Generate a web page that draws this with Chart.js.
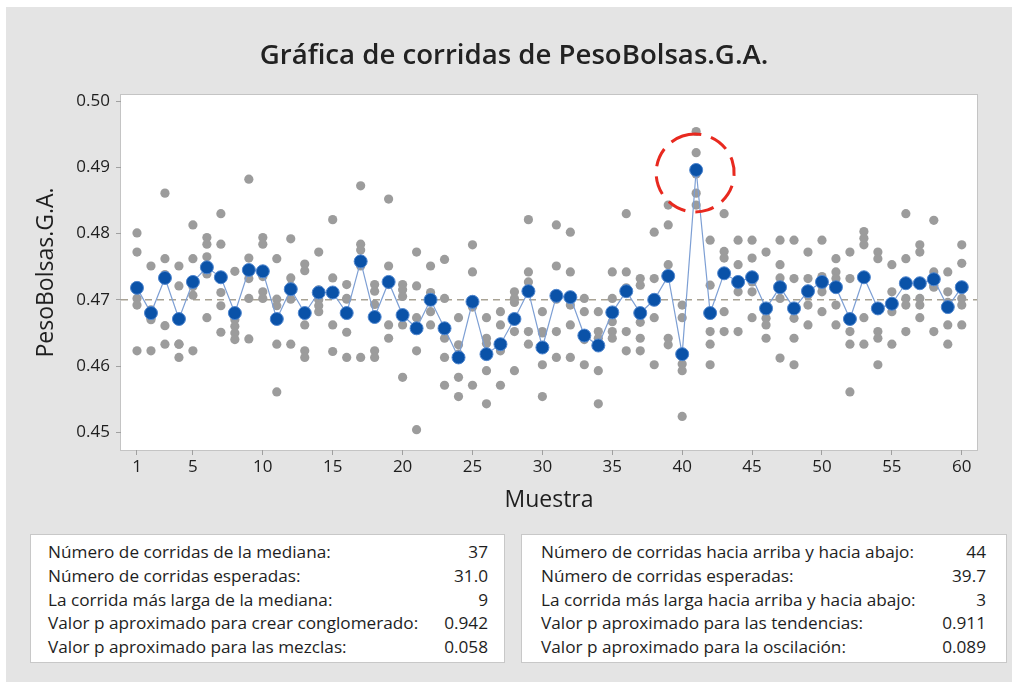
<!DOCTYPE html>
<html>
<head>
<meta charset="utf-8">
<script src="https://cdn.jsdelivr.net/npm/chart.js@4/dist/chart.umd.min.js"></script>
<style>
  body { margin: 0; background: #fff; }
  #panel { position: absolute; left: 6px; top: 7px; width: 1006px; height: 675px; background: #e4e4e4; }
  canvas { position: absolute; left: 0; top: 0; }
  .caja { position: absolute; top: 534px; height: 129px; background: #fff; border: 1px solid #c8c8c8; box-sizing: border-box;
          font-family: "Open Sans", sans-serif; font-size: 17.2px; color: #1e1e1e; padding-top: 5px; }
  .caja div { display: flex; justify-content: space-between; height: 23.75px; line-height: 23.75px; white-space: nowrap; }
</style>
</head>
<body>
<div id="panel"></div>
<canvas id="grafico" width="1012" height="682"></canvas>
<div class="caja" id="cajaMediana" style="left:30px; width:475px; padding-left:17px; padding-right:16px;"></div>
<div class="caja" id="cajaTendencia" style="left:521px; width:486px; padding-left:19px; padding-right:20px;"></div>
<script>
const muestras = [1, 2, 3, 4, 5, 6, 7, 8, 9, 10, 11, 12, 13, 14, 15, 16, 17, 18, 19, 20,
  21, 22, 23, 24, 25, 26, 27, 28, 29, 30, 31, 32, 33, 34, 35, 36, 37, 38, 39, 40,
  41, 42, 43, 44, 45, 46, 47, 48, 49, 50, 51, 52, 53, 54, 55, 56, 57, 58, 59, 60];

// medias de cada subgrupo (puntos azules)
const medias = [0.4718, 0.4680, 0.4733, 0.4671, 0.4727, 0.4749, 0.4734, 0.4680, 0.4745, 0.4743,
  0.4671, 0.4716, 0.4680, 0.4711, 0.4711, 0.4680, 0.4758, 0.4674, 0.4727, 0.4677,
  0.4657, 0.4700, 0.4657, 0.4613, 0.4697, 0.4618, 0.4633, 0.4671, 0.4713, 0.4628,
  0.4706, 0.4704, 0.4646, 0.4631, 0.4681, 0.4713, 0.4680, 0.4700, 0.4736, 0.4618,
  0.4896, 0.4680, 0.4740, 0.4727, 0.4734, 0.4687, 0.4719, 0.4687, 0.4713, 0.4727,
  0.4719, 0.4671, 0.4734, 0.4687, 0.4694, 0.4725, 0.4725, 0.4731, 0.4689, 0.4719];

// observaciones individuales (puntos grises)
const observaciones = [
  [0.4801, 0.4772, 0.4702, 0.4692, 0.4623], [0.4751, 0.4685, 0.4672, 0.4670, 0.4623],
  [0.4861, 0.4762, 0.4738, 0.4661, 0.4633], [0.4751, 0.4721, 0.4633, 0.4633, 0.4613],
  [0.4813, 0.4762, 0.4720, 0.4707, 0.4623], [0.4794, 0.4784, 0.4765, 0.4739, 0.4673],
  [0.4830, 0.4784, 0.4711, 0.4691, 0.4651], [0.4743, 0.4670, 0.4660, 0.4650, 0.4640],
  [0.4882, 0.4763, 0.4732, 0.4702, 0.4641], [0.4794, 0.4784, 0.4735, 0.4712, 0.4702],
  [0.4762, 0.4701, 0.4691, 0.4633, 0.4561], [0.4792, 0.4733, 0.4721, 0.4701, 0.4633],
  [0.4754, 0.4744, 0.4662, 0.4623, 0.4613], [0.4772, 0.4715, 0.4700, 0.4691, 0.4682],
  [0.4821, 0.4733, 0.4712, 0.4662, 0.4622], [0.4723, 0.4702, 0.4701, 0.4651, 0.4613],
  [0.4872, 0.4784, 0.4775, 0.4751, 0.4613], [0.4723, 0.4713, 0.4693, 0.4623, 0.4613],
  [0.4852, 0.4751, 0.4723, 0.4662, 0.4642], [0.4723, 0.4715, 0.4705, 0.4662, 0.4583],
  [0.4772, 0.4721, 0.4673, 0.4623, 0.4504], [0.4751, 0.4711, 0.4699, 0.4682, 0.4662],
  [0.4761, 0.4702, 0.4642, 0.4613, 0.4571], [0.4673, 0.4632, 0.4618, 0.4583, 0.4554],
  [0.4783, 0.4742, 0.4700, 0.4689, 0.4571], [0.4673, 0.4642, 0.4634, 0.4593, 0.4543],
  [0.4682, 0.4662, 0.4627, 0.4623, 0.4571], [0.4712, 0.4702, 0.4696, 0.4652, 0.4593],
  [0.4821, 0.4742, 0.4727, 0.4652, 0.4633], [0.4682, 0.4652, 0.4650, 0.4602, 0.4554],
  [0.4813, 0.4751, 0.4701, 0.4652, 0.4613], [0.4802, 0.4742, 0.4692, 0.4662, 0.4613],
  [0.4702, 0.4682, 0.4645, 0.4640, 0.4602], [0.4682, 0.4652, 0.4642, 0.4593, 0.4543],
  [0.4742, 0.4702, 0.4667, 0.4652, 0.4642], [0.4830, 0.4742, 0.4718, 0.4652, 0.4623],
  [0.4732, 0.4722, 0.4666, 0.4642, 0.4623], [0.4802, 0.4732, 0.4701, 0.4673, 0.4602],
  [0.4843, 0.4813, 0.4753, 0.4642, 0.4632], [0.4692, 0.4673, 0.4603, 0.4593, 0.4524],
  [0.4954, 0.4922, 0.4890, 0.4861, 0.4843], [0.4790, 0.4722, 0.4652, 0.4633, 0.4602],
  [0.4830, 0.4773, 0.4763, 0.4682, 0.4652], [0.4790, 0.4753, 0.4723, 0.4712, 0.4652],
  [0.4790, 0.4763, 0.4727, 0.4712, 0.4673], [0.4772, 0.4682, 0.4672, 0.4662, 0.4642],
  [0.4790, 0.4753, 0.4733, 0.4702, 0.4612], [0.4790, 0.4732, 0.4672, 0.4642, 0.4602],
  [0.4772, 0.4732, 0.4707, 0.4692, 0.4662], [0.4790, 0.4735, 0.4721, 0.4712, 0.4682],
  [0.4762, 0.4742, 0.4732, 0.4692, 0.4662], [0.4772, 0.4732, 0.4652, 0.4633, 0.4561],
  [0.4803, 0.4793, 0.4783, 0.4673, 0.4633], [0.4772, 0.4762, 0.4652, 0.4642, 0.4602],
  [0.4753, 0.4712, 0.4695, 0.4682, 0.4633], [0.4830, 0.4762, 0.4702, 0.4692, 0.4652],
  [0.4783, 0.4772, 0.4702, 0.4692, 0.4673], [0.4820, 0.4742, 0.4722, 0.4719, 0.4652],
  [0.4742, 0.4712, 0.4696, 0.4662, 0.4633], [0.4783, 0.4755, 0.4702, 0.4692, 0.4662]
];

const mediana = 0.470;
const muestraMarcada = 41;

const ticksX = [1, 5, 10, 15, 20, 25, 30, 35, 40, 45, 50, 55, 60];
const ticksY = [0.45, 0.46, 0.47, 0.48, 0.49, 0.50];

const titulo = 'Gráfica de corridas de PesoBolsas.G.A.';

const etiquetasMediana = ['Número de corridas de la mediana:', 'Número de corridas esperadas:',
  'La corrida más larga de la mediana:', 'Valor p aproximado para crear conglomerado:',
  'Valor p aproximado para las mezclas:'];
const valoresMediana = ['37', '31.0', '9', '0.942', '0.058'];
const etiquetasTendencia = ['Número de corridas hacia arriba y hacia abajo:', 'Número de corridas esperadas:',
  'La corrida más larga hacia arriba y hacia abajo:', 'Valor p aproximado para las tendencias:',
  'Valor p aproximado para la oscilación:'];
const valoresTendencia = ['44', '39.7', '3', '0.911', '0.089'];

function llenarCaja(id, etiquetas, valores) {
  const caja = document.getElementById(id);
  etiquetas.forEach((t, i) => {
    const fila = document.createElement('div');
    const a = document.createElement('span');
    const b = document.createElement('span');
    a.textContent = t;
    b.textContent = valores[i];
    fila.appendChild(a);
    fila.appendChild(b);
    caja.appendChild(fila);
  });
}
llenarCaja('cajaMediana', etiquetasMediana, valoresMediana);
llenarCaja('cajaTendencia', etiquetasTendencia, valoresTendencia);

const fuente = '"Open Sans", sans-serif';

const marco = {
  id: 'marco',
  beforeDraw(chart) {
    const { ctx, chartArea: a } = chart;
    ctx.save();
    ctx.fillStyle = '#ffffff';
    ctx.fillRect(a.left, a.top, a.right - a.left, a.bottom - a.top);
    ctx.strokeStyle = '#c4c4c4';
    ctx.lineWidth = 1;
    ctx.strokeRect(a.left - 0.5, a.top - 0.5, a.right - a.left + 1, a.bottom - a.top + 1);
    // titulo
    ctx.fillStyle = '#222';
    ctx.font = '600 27.6px ' + fuente;
    ctx.textAlign = 'center';
    ctx.textBaseline = 'alphabetic';
    ctx.fillText(titulo, 514, 64);
    ctx.restore();
  },
  beforeDatasetsDraw(chart) {
    const { ctx, chartArea: a, scales } = chart;
    const y = scales.y.getPixelForValue(mediana);
    ctx.save();
    ctx.strokeStyle = '#a8a294';
    ctx.lineWidth = 1.5;
    ctx.setLineDash([7, 5]);
    ctx.beginPath();
    ctx.moveTo(a.left, y);
    ctx.lineTo(a.right, y);
    ctx.stroke();
    ctx.restore();
  },
  afterDatasetsDraw(chart) {
    const { ctx, scales } = chart;
    const i = muestras.indexOf(muestraMarcada);
    const cx = scales.x.getPixelForValue(muestras[i]);
    const cy = scales.y.getPixelForValue(medias[i]);
    ctx.save();
    ctx.strokeStyle = '#e8291f';
    ctx.lineWidth = 3;
    ctx.setLineDash([19, 10]);
    ctx.beginPath();
    ctx.arc(cx - 1, cy + 3, 39, -1.9, 2 * Math.PI - 1.9);
    ctx.stroke();
    ctx.restore();
  }
};

new Chart(document.getElementById('grafico'), {
  type: 'scatter',
  data: {
    datasets: [{
      label: 'Media',
      data: medias.map((v, i) => ({ x: muestras[i], y: v })),
      showLine: true,
      borderColor: '#7d9fd4',
      borderWidth: 1.2,
      pointRadius: 6.5,
      pointBackgroundColor: '#0a52a8',
      pointBorderColor: '#4f86cf',
      pointBorderWidth: 1
    }, {
      label: 'Observaciones',
      data: observaciones.flatMap((obs, i) => obs.map(v => ({ x: muestras[i], y: v }))),
      pointRadius: 4.6,
      pointBackgroundColor: '#9c9c9c',
      pointBorderWidth: 0
    }]
  },
  options: {
    responsive: false,
    animation: false,
    layout: { padding: { left: 0, right: 35, top: 95, bottom: 162 } },
    plugins: {
      legend: { display: false },
      tooltip: { enabled: false },
      title: { display: false }
    },
    scales: {
      x: {
        type: 'linear',
        min: -0.1445,
        max: 61.09,
        afterBuildTicks: s => { s.ticks = ticksX.map(v => ({ value: v })); },
        afterFit: s => { s.height = 70; },
        grid: { drawOnChartArea: false, drawTicks: true, tickLength: 5, color: '#a0a0a0' },
        border: { display: false },
        ticks: { color: '#1e1e1e', font: { family: fuente, size: 17 }, padding: 2, maxRotation: 0 },
        title: { display: true, text: 'Muestra', color: '#1e1e1e', font: { family: fuente, size: 23 }, padding: { bottom: 6 } }
      },
      y: {
        min: 0.44733,
        max: 0.50091,
        afterBuildTicks: s => { s.ticks = ticksY.map(v => ({ value: v })); },
        afterFit: s => { s.width = 121; },
        grid: { drawOnChartArea: false, drawTicks: true, tickLength: 5, color: '#a0a0a0' },
        border: { display: false },
        ticks: { color: '#1e1e1e', font: { family: fuente, size: 17 }, padding: 6, callback: v => v.toFixed(2) },
        title: { display: true, text: 'PesoBolsas.G.A.', color: '#1e1e1e', font: { family: fuente, size: 23 }, padding: { top: 33 } }
      }
    }
  },
  plugins: [marco]
});
</script>
</body>
</html>
